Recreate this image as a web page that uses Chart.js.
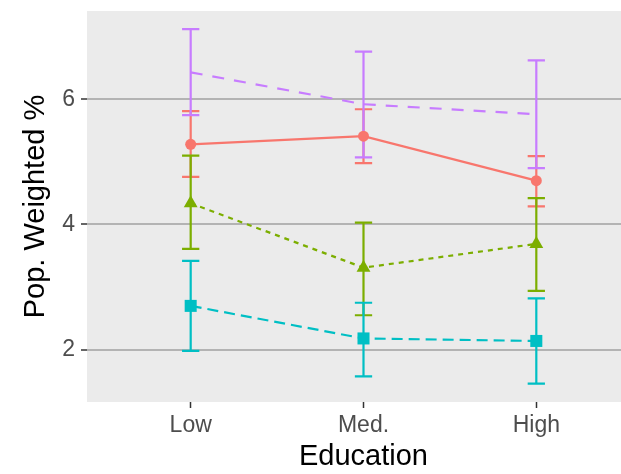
<!DOCTYPE html>
<html>
<head>
<meta charset="utf-8">
<script src="https://cdn.jsdelivr.net/npm/chart.js@4/dist/chart.umd.min.js"></script>
<style>
  html, body { margin:0; padding:0; background:#fff; overflow:hidden; }
  #wrap { width:621px; height:474px; overflow:hidden; }
</style>
</head>
<body>
<div id="wrap"><canvas id="chart" width="640" height="474"></canvas></div>
<script>
// categories on the x axis (positions 1, 2, 3)
const categories = ["Low", "Med.", "High"];
const xPos = [1, 2, 3];
const yTicks = [2, 4, 6];

// series: mean, lower and upper error bar
const redMean = [5.28, 5.41, 4.70];
const redLow  = [4.76, 4.98, 4.29];
const redHigh = [5.81, 5.84, 5.09];

const greenMean = [4.34, 3.31, 3.69];
const greenLow  = [3.61, 2.55, 2.94];
const greenHigh = [5.10, 4.03, 4.42];

const cyanMean = [2.70, 2.18, 2.14];
const cyanLow  = [1.98, 1.575, 1.46];
const cyanHigh = [3.42, 2.75, 2.82];

const purpleMean = [6.43, 5.92, 5.76];
const purpleLow  = [5.745, 5.07, 4.90];
const purpleHigh = [7.12, 6.76, 6.62];

const FONT = "'Liberation Sans', Arial, Helvetica, sans-serif";

function pts(vals){ return vals.map((v,i)=>({x:xPos[i], y:v})); }

function series(color, mean, lo, hi, style, radius, dash, order){
  return {
    data: pts(mean),
    lo, hi,
    borderColor: color,
    backgroundColor: color,
    borderWidth: 2.2,
    borderDash: dash,
    pointStyle: style,
    pointRadius: radius,
    pointBorderWidth: 0,
    pointHoverRadius: radius,
    tension: 0,
    order
  };
}

// grey panel behind the plot
const panelBg = {
  id: "panelBg",
  beforeDraw(chart){
    const {ctx, chartArea:a} = chart;
    ctx.save();
    ctx.fillStyle = "#EBEBEB";
    ctx.fillRect(a.left, a.top, a.right - a.left, a.bottom - a.top);
    ctx.restore();
  }
};

// vertical error bars with caps, through the chart scales
const errorBars = {
  id: "errorBars",
  beforeDatasetsDraw(chart){
    const {ctx, scales:{x, y}} = chart;
    ctx.save();
    ctx.lineWidth = 2.2;
    ctx.lineCap = "butt";
    chart.data.datasets.forEach(ds=>{
      ctx.strokeStyle = ds.borderColor;
      ds.data.forEach((p,i)=>{
        const px = x.getPixelForValue(p.x);
        const l = x.getPixelForValue(p.x - 0.05);
        const r = x.getPixelForValue(p.x + 0.05);
        const yl = y.getPixelForValue(ds.lo[i]);
        const yh = y.getPixelForValue(ds.hi[i]);
        ctx.beginPath();
        ctx.moveTo(px, yl); ctx.lineTo(px, yh);
        ctx.moveTo(l, yl); ctx.lineTo(r, yl);
        ctx.moveTo(l, yh); ctx.lineTo(r, yh);
        ctx.stroke();
      });
    });
    ctx.restore();
  }
};

new Chart(document.getElementById("chart"), {
  type: "line",
  data: {
    datasets: [
      series("#F8766D", redMean, redLow, redHigh, "circle", 5.5, [], 3),
      series("#7CAE00", greenMean, greenLow, greenHigh, "triangle", 8, [5, 5], 2),
      series("#00BFC4", cyanMean, cyanLow, cyanHigh, "rect", 8.5, [11, 6], 1),
      series("#C77CFF", purpleMean, purpleLow, purpleHigh, "circle", 0, [12, 10], 0),
    ]
  },
  options: {
    responsive: false,
    animation: false,
    layout: { autoPadding: false, padding: { top: 11, right: 0, left: 0, bottom: 0 } },
    plugins: { legend: { display: false }, tooltip: { enabled: false } },
    scales: {
      x: {
        type: "linear",
        min: 0.4, max: 3.6,
        afterBuildTicks: s => { s.ticks = xPos.map(v=>({value:v})); },
        afterFit: s => { s.height = 72; s.paddingLeft = 0; s.paddingRight = 0; },
        ticks: {
          callback: v => categories[xPos.indexOf(v)] ?? "",
          color: "#4D4D4D",
          font: { family: FONT, size: 23 },
          padding: 4,
          autoSkip: false,
          maxRotation: 0
        },
        grid: { drawOnChartArea: false, tickLength: 6, tickColor: "#333333", tickWidth: 1.5 },
        border: { display: false },
        title: {
          display: true, text: "Education", color: "#000",
          font: { family: FONT, size: 29 },
          padding: { top: 0, bottom: 0 }
        }
      },
      y: {
        min: 1.165, max: 7.409,
        afterBuildTicks: s => { s.ticks = yTicks.map(v=>({value:v})); },
        afterFit: s => { s.width = 87; s.paddingTop = 0; s.paddingBottom = 0; },
        ticks: {
          color: "#4D4D4D",
          font: { family: FONT, size: 23 },
          padding: 6
        },
        grid: { color: "#B3B3B3", lineWidth: 2, tickLength: 6, tickColor: "#333333", tickWidth: 1.5 },
        border: { display: false },
        title: {
          display: true, text: "Pop. Weighted %", color: "#000",
          font: { family: FONT, size: 29 },
          padding: { top: 19, bottom: 0 }
        }
      }
    }
  },
  plugins: [panelBg, errorBars]
});
</script>
</body>
</html>
